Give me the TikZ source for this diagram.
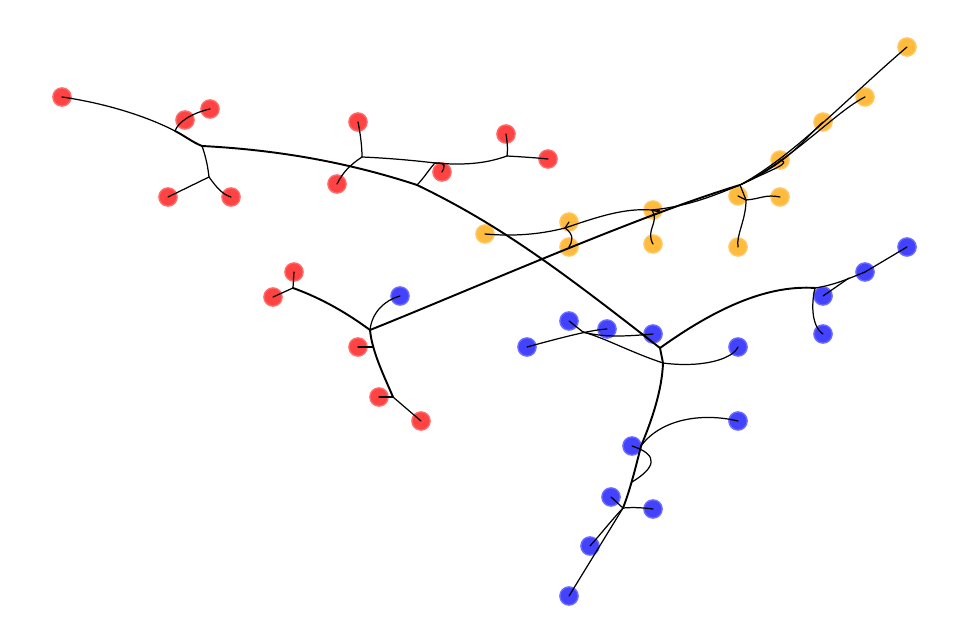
\documentclass[tikz,border=0pt]{standalone}
\usepackage{tikz}
\definecolor{leafred}{RGB}{255,0,0}
\definecolor{leaforange}{RGB}{255,165,0}
\definecolor{leafblue}{RGB}{0,0,255}

\begin{document}
\begin{tikzpicture}[x=0.02cm,y=-0.02cm,line cap=round,line join=round,
        leaf/.style={circle,inner sep=0pt,minimum size=0.365cm,line width=0.8pt},
        rleaf/.style={leaf,fill=leafred!74!white,draw=leafred!58!white},
        oleaf/.style={leaf,fill=leaforange!76!white,draw=leaforange!60!white},
        bleaf/.style={leaf,fill=leafblue!74!white,draw=leafblue!58!white},
        twig/.style={line width=0.7pt},
        trunk/.style={line width=1.1pt}]
      \useasboundingbox (0,0) rectangle (969,644);
      % red leaves
      \node[rleaf] (r1) at (62,97) {};
      \node[rleaf] (r2) at (185,120) {};
      \node[rleaf] (r3) at (210,109) {};
      \node[rleaf] (r4) at (168,197) {};
      \node[rleaf] (r5) at (231,197) {};
      \node[rleaf] (r6) at (358,122) {};
      \node[rleaf] (r7) at (337,184) {};
      \node[rleaf] (r8) at (442,172) {};
      \node[rleaf] (r9) at (506,134) {};
      \node[rleaf] (r10) at (548,159) {};
      \node[rleaf] (r11) at (294,272) {};
      \node[rleaf] (r12) at (273,297) {};
      \node[rleaf] (r13) at (358,347) {};
      \node[rleaf] (r14) at (379,397) {};
      \node[rleaf] (r15) at (421,421) {};
      % orange leaves
      \node[oleaf] (o1) at (907,47) {};
      \node[oleaf] (o2) at (865,97) {};
      \node[oleaf] (o3) at (823,122) {};
      \node[oleaf] (o4) at (780,160) {};
      \node[oleaf] (o5) at (738,196) {};
      \node[oleaf] (o6) at (780,197) {};
      \node[oleaf] (o7) at (738,247) {};
      \node[oleaf] (o8) at (485,234) {};
      \node[oleaf] (o9) at (569,222) {};
      \node[oleaf] (o10) at (569,247) {};
      \node[oleaf] (o11) at (653,210) {};
      \node[oleaf] (o12) at (653,244) {};
      % blue leaves
      \node[bleaf] (b1) at (400,296) {};
      \node[bleaf] (b2) at (569,321) {};
      \node[bleaf] (b3) at (607,329) {};
      \node[bleaf] (b4) at (527,347) {};
      \node[bleaf] (b5) at (653,334) {};
      \node[bleaf] (b6) at (738,347) {};
      \node[bleaf] (b7) at (823,296) {};
      \node[bleaf] (b8) at (865,272) {};
      \node[bleaf] (b9) at (907,247) {};
      \node[bleaf] (b10) at (823,334) {};
      \node[bleaf] (b11) at (738,421) {};
      \node[bleaf] (b12) at (632,446) {};
      \node[bleaf] (b13) at (611,497) {};
      \node[bleaf] (b14) at (653,509) {};
      \node[bleaf] (b15) at (590,546) {};
      \node[bleaf] (b16) at (569,596) {};
      % branch points
      \coordinate (ja) at (175,131);
      \coordinate (jb) at (202,146);
      \coordinate (jc) at (209,177);
      \coordinate (jd) at (417,185);
      \coordinate (je) at (362,157);
      \coordinate (jg) at (435,163);
      \coordinate (jf) at (507,156);
      \coordinate (jr) at (370,330);
      \coordinate (jr2) at (293,288);
      \coordinate (jr3) at (393,397);
      \coordinate (jr13) at (373,347);
      \coordinate (jbl) at (660,348);
      \coordinate (jbl2) at (663,363);
      \coordinate (jbb) at (583,332);
      \coordinate (jbr) at (815,288);
      \coordinate (jb7) at (849,278);
      \coordinate (jbm) at (641,446);
      \coordinate (jbk) at (632,482);
      \coordinate (jbt) at (623,508);
      \coordinate (jo) at (740,185);
      \coordinate (jo2) at (746,200);
      \coordinate (jo9) at (565,228);
      \coordinate (jo11) at (652,210);

      % red, upper left
      \draw[twig] (r1.center) .. controls (110,104) and (150,118) .. (ja);
      \draw[trunk] (ja) .. controls (185,136) and (192,142) .. (jb);
      \draw[twig] (ja) .. controls (178,122) and (192,113) .. (r3.center);
      \draw[twig] (jb) .. controls (206,157) and (208,168) .. (jc);
      \draw[twig] (jc) -- (r4.center);
      \draw[twig] (jc) .. controls (217,188) and (222,194) .. (r5.center);
      \draw[trunk] (jb) .. controls (280,150) and (350,163) .. (jd);
      % red, upper middle
      \draw[twig] (jd) .. controls (424,178) and (430,168) .. (jg);
      \draw[twig] (jg) .. controls (410,160) and (385,158) .. (je);
      \draw[twig] (je) .. controls (362,145) and (360,132) .. (r6.center);
      \draw[twig] (je) .. controls (350,165) and (343,172) .. (r7.center);
      \draw[twig] (jg) .. controls (470,166) and (490,162) .. (jf);
      \draw[twig] (jg) .. controls (448,162) and (444,168) .. (r8.center);
      \draw[twig] (jf) .. controls (508,148) and (507,140) .. (r9.center);
      \draw[twig] (jf) .. controls (525,157) and (538,158) .. (r10.center);
      % the two long crossing trunks
      \draw[trunk] (jd) .. controls (500,225) and (560,270) .. (jbl);
      \draw[trunk] (jr) .. controls (470,290) and (640,215) .. (jo);
      % red, lower
      \draw[trunk] (jr) .. controls (340,308) and (315,296) .. (jr2);
      \draw[twig] (jr2) -- (r11.center);
      \draw[twig] (jr2) -- (r12.center);
      \draw[twig] (jr) .. controls (372,312) and (385,300) .. (b1.center);
      \draw[trunk] (jr) .. controls (372,352) and (385,378) .. (jr3);
      \draw[twig] (r13.center) -- (jr13);
      \draw[twig] (jr3) -- (r14.center);
      \draw[twig] (jr3) -- (r15.center);
      % blue
      \draw[trunk] (jbl) -- (jbl2);
      \draw[trunk] (jbl) .. controls (720,305) and (770,285) .. (jbr);
      \draw[twig] (jbr) .. controls (835,285) and (850,278) .. (b8.center);
      \draw[twig] (b8.center) -- (b9.center);
      \draw[twig] (jb7) -- (b7.center);
      \draw[twig] (jbr) .. controls (812,300) and (810,325) .. (b10.center);
      \draw[twig] (jbl2) .. controls (700,368) and (732,360) .. (b6.center);
      \draw[twig] (jbl2) .. controls (630,352) and (605,338) .. (jbb);
      \draw[twig] (jbb) -- (b2.center);
      \draw[twig] (jbb) .. controls (605,338) and (630,336) .. (b5.center);
      \draw[twig] (b4.center) .. controls (560,338) and (590,330) .. (b3.center);
      \draw[trunk] (jbl2) .. controls (662,390) and (652,420) .. (jbm);
      \draw[trunk] (jbm) .. controls (635,470) and (630,490) .. (jbt);
      \draw[twig] (jbt) -- (b16.center);
      \draw[twig] (jbm) .. controls (660,420) and (700,412) .. (b11.center);
      \draw[twig] (b12.center) .. controls (660,455) and (655,468) .. (jbk);
      \draw[twig] (jbt) -- (b13.center);
      \draw[twig] (jbt) .. controls (635,507) and (645,508) .. (b14.center);
      \draw[twig] (jbt) .. controls (610,522) and (600,535) .. (b15.center);
      % orange
      \draw[twig] (jo) -- (jo2);
      \draw[twig] (jo2) -- (o5.center);
      \draw[twig] (jo2) .. controls (760,199) and (766,194) .. (o6.center);
      \draw[twig] (jo2) .. controls (746,220) and (736,235) .. (o7.center);
      \draw[twig] (jo) .. controls (795,155) and (845,100) .. (o1.center);
      \draw[twig] (jo) .. controls (775,168) and (792,163) .. (o4.center);
      \draw[twig] (jo) .. controls (790,162) and (805,138) .. (o3.center);
      \draw[twig] (jo) .. controls (795,158) and (835,112) .. (o2.center);
      \draw[twig] (o8.center) .. controls (520,237) and (545,233) .. (jo9);
      \draw[twig] (jo9) -- (o9.center);
      \draw[twig] (jo9) .. controls (575,235) and (572,242) .. (o10.center);
      \draw[twig] (jo9) .. controls (600,216) and (625,208) .. (jo11);
      \draw[twig] (jo11) .. controls (690,206) and (715,195) .. (jo);
      \draw[twig] (jo11) .. controls (662,214) and (662,208) .. (o11.center);
      \draw[twig] (jo11) .. controls (660,222) and (645,230) .. (o12.center);
    \end{tikzpicture}
\end{document}
